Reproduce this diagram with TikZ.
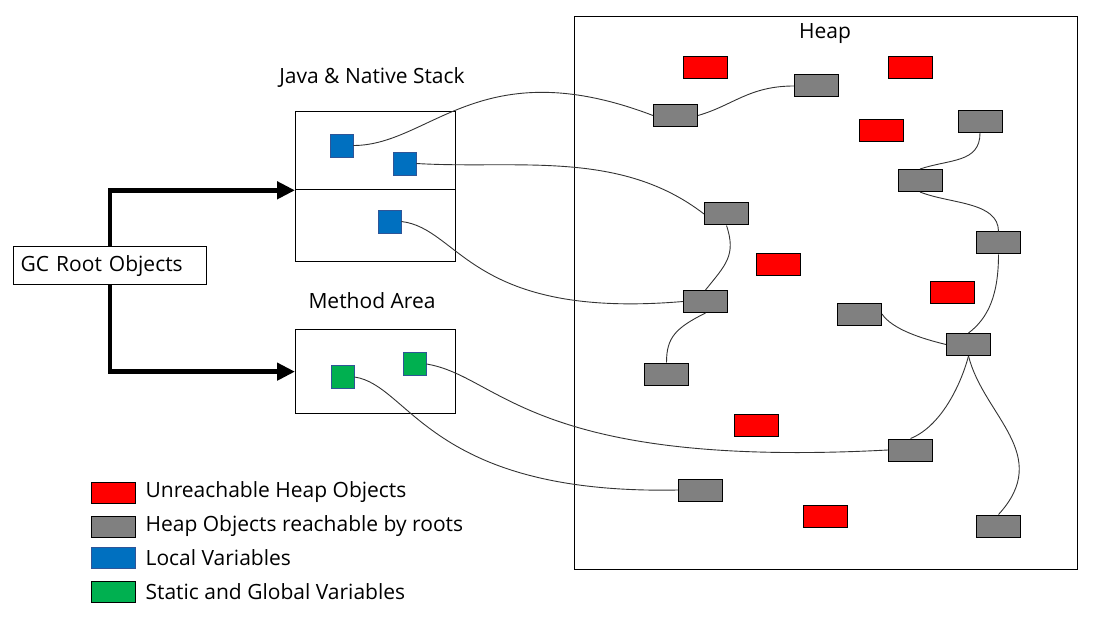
\documentclass[tikz,border=0pt]{standalone}
\usepackage{fontspec}
\setmainfont{Open Sans}
\usepackage{tikz}
\usetikzlibrary{arrows.meta}
\usetikzlibrary{positioning}
\definecolor{objred}{HTML}{FF0000}
\definecolor{objgray}{HTML}{808080}
\definecolor{varblue}{HTML}{0070C0}
\definecolor{vargreen}{HTML}{00B050}
\definecolor{varedge}{HTML}{2F5597}
\tikzset{
  frame/.style={draw=black, line width=1.3pt, inner sep=0pt, anchor=north west},
  heapobj/.style={draw=black, line width=1pt, inner sep=0pt, minimum width=44pt, minimum height=22pt},
  unreach/.style={heapobj, fill=objred},
  reach/.style={heapobj, fill=objgray},
  rootvar/.style={draw=varedge, line width=0.8pt, inner sep=0pt, minimum size=23pt},
  localvar/.style={rootvar, fill=varblue},
  staticvar/.style={rootvar, fill=vargreen},
  swatch/.style={draw=black, line width=0.8pt, inner sep=0pt, minimum width=44pt, minimum height=21pt},
  keytext/.style={inner sep=0pt, anchor=west, font=\fontsize{21}{24}\selectfont},
  areatitle/.style={inner sep=0pt, font=\fontsize{21}{24}\selectfont},
  link/.style={draw=black!80, line width=0.9pt},
  rootarrow/.style={line width=4.5pt, -{Triangle[length=18pt,width=17pt]}}
}
\begin{document}
\begin{tikzpicture}[x=1pt,y=-1pt]
        \useasboundingbox (0,0) rectangle (1105,620);
        % areas
        \node[frame, minimum width=503pt, minimum height=553pt] (heap) at (574,16) {};
        \node[areatitle] (heaptitle) at (825,34) {Heap};
        \node[frame, minimum width=160pt, minimum height=78pt] (stacktop) at (295,111) {};
        \node[frame, minimum width=160pt, minimum height=72pt] (stackbot) at (295,189) {};
        \node[areatitle] (stacktitle) at (372,77) {Java \& Native Stack};
        \node[frame, minimum width=160pt, minimum height=84pt] (method) at (295,329) {};
        \node[areatitle] (methodtitle) at (372,301) {Method Area};
        \node[frame, minimum height=38pt, text width=179pt, inner xsep=7pt, align=left,
              font=\fontsize{21}{24}\selectfont] (root) at (13,246) {GC Root Objects};
        \draw[rootarrow] (root.north) |- (stacktop.south west);
        \draw[rootarrow] (root.south) |- (method.west);
        % roots
        \node[localvar] (lv1) at (341.5,145.5) {};
        \node[localvar] (lv2) at (404.5,163.5) {};
        \node[localvar] (lv3) at (389.5,221.5) {};
        \node[staticvar] (sv1) at (342.5,377) {};
        \node[staticvar] (sv2) at (414.5,364) {};
        % heap objects
        \node[reach] (r1) at (816.5,86) {};
        \node[reach] (r2) at (675.5,115.5) {};
        \node[reach] (r3) at (980,121.5) {};
        \node[reach] (r4) at (920,180.5) {};
        \node[reach] (r5) at (726.5,214) {};
        \node[reach] (r6) at (998.5,243) {};
        \node[reach] (r7) at (705.5,301.5) {};
        \node[reach] (r8) at (859.5,314) {};
        \node[reach] (r9) at (968.5,344.5) {};
        \node[reach] (r10) at (666.5,374) {};
        \node[reach] (r11) at (910.5,450) {};
        \node[reach] (r12) at (700.5,490) {};
        \node[reach] (r13) at (998.5,526) {};
        \node[unreach] (u1) at (705.5,68) {};
        \node[unreach] (u2) at (910.5,68) {};
        \node[unreach] (u3) at (881.5,130.5) {};
        \node[unreach] (u4) at (778,265) {};
        \node[unreach] (u5) at (952,292.5) {};
        \node[unreach] (u6) at (756,425) {};
        \node[unreach] (u7) at (825,516) {};
        % references
        \draw[link] (lv1.east) .. controls +(77,0) and +(-173,-66) .. (r2.west);
        \draw[link] (r2.east) .. controls +(35,-10) and +(-45,0) .. (r1.west);
        \draw[link] (lv2.east) .. controls +(100,6) and +(-84,-65) .. (r5.west);
        \draw[link] (r5.south) .. controls +(10,30) and +(20,-25) .. (r7.north);
        \draw[link] (lv3.east) .. controls +(59,7) and +(-213,18) .. (r7.west);
        \draw[link] (r7.south) .. controls +(-30,15) and +(0,-25) .. (r10.north);
        \draw[link] (r3.south) .. controls +(0,30) and +(30,-10) .. (r4.north);
        \draw[link] (r4.south) .. controls +(30,12) and +(0,-30) .. (r6.north);
        \draw[link] (r6.south) .. controls +(0,40) and +(20,-15) .. (r9.north);
        \draw[link] (r8.east) .. controls +(10,15) and +(-25,-6) .. (r9.west);
        \draw[link] (r9.south) .. controls +(-8,30) and +(30,-12) .. (r11.north);
        \draw[link] (r9.south) .. controls +(15,60) and +(55,-60) .. (r13.north);
        \draw[link] (sv2.east) .. controls +(74,12) and +(-358,19) .. (r11.west);
        \draw[link] (sv1.east) .. controls +(56,8) and +(-249,5) .. (r12.west);
        % legend
        \node[swatch, fill=objred] (keyu) at (113,492.5) {};
        \node[keytext, right=10pt of keyu] (keyutext) {Unreachable Heap Objects};
        \node[swatch, fill=objgray] (keyr) at (113,526.5) {};
        \node[keytext, right=10pt of keyr] (keyrtext) {Heap Objects reachable by roots};
        \node[swatch, fill=varblue, draw=varedge] (keyl) at (113,558) {};
        \node[keytext, right=10pt of keyl] (keyltext) {Local Variables};
        \node[swatch, fill=vargreen] (keys) at (113.5,591.5) {};
        \node[keytext, right=9.5pt of keys] (keystext) {Static and Global Variables};
\end{tikzpicture}
\end{document}
